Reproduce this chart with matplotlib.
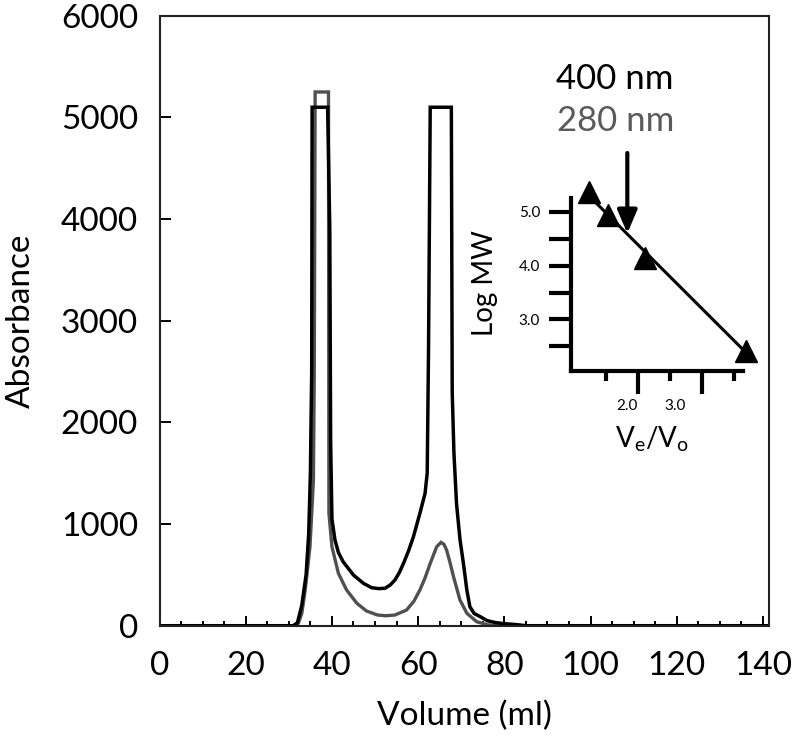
import matplotlib
matplotlib.use('Agg')
import matplotlib.pyplot as plt
import numpy as np
from matplotlib.ticker import MultipleLocator

plt.rcParams['font.family'] = ['Lato', 'DejaVu Sans']
plt.rcParams['mathtext.fontset'] = 'custom'
plt.rcParams['mathtext.rm'] = 'Lato'
plt.rcParams['mathtext.it'] = 'Lato:italic'

# elution profile, 400 nm (saturates at ~5100)
vol_400 = [0, 31.0, 32.0, 33.0, 34.0, 34.6, 35.0, 35.3, 35.4, 39.0, 39.5, 39.7,
           40.0, 40.7, 41.5, 42.6, 45.0, 47.3, 49.2, 50.8, 52.3, 53.5, 54.6,
           55.6, 56.6, 57.8, 58.9, 60.4, 61.6, 62.1, 62.4, 62.8, 67.7, 67.9,
           68.3, 68.9, 69.7, 70.5, 71.3, 72.0, 73.0, 74.4, 76.0, 78.0, 80.0,
           83.0, 85.0, 141.4]
abs_400 = [0, 0, 30, 200, 500, 900, 1500, 2500, 5100, 5100, 3900, 1800,
           1050, 843, 720, 629, 498, 417, 374, 365, 368, 400, 449,
           520, 613, 740, 875, 1105, 1302, 1500, 2700, 5100, 5100, 2300,
           1700, 1200, 850, 613, 350, 187, 120, 89, 50, 30, 20,
           10, 0, 0]

# elution profile, 280 nm (saturates at ~5250)
vol_280 = [0, 31.5, 32.2, 33.0, 33.8, 34.9, 35.3, 35.7, 35.9, 36.1, 39.2, 39.3,
           40.0, 41.5, 43.4, 45.8, 48.0, 50.6, 52.5, 54.6, 57.3, 59.0, 60.4,
           61.6, 62.8, 64.3, 65.3, 66.0, 66.6, 67.4, 68.2, 69.7, 71.3, 73.6,
           76.0, 78.0, 141.4]
abs_280 = [0, 0, 24, 120, 351, 777, 1100, 1433, 2500, 5250, 5250, 1105,
           777, 515, 351, 220, 145, 105, 98, 105, 154, 240, 351,
           470, 613, 777, 820, 800, 744, 620, 482, 253, 122, 39,
           10, 0, 0]

# calibration inset
ve_vo = [1.22, 1.53, 2.11, 3.70]
log_mw = [5.37, 4.94, 4.15, 2.42]
sample_ve_vo = 1.83
sample_log_mw = 4.60

fig = plt.figure(figsize=(8, 7.39), dpi=100)

# main chromatogram
ax = fig.add_axes([0.1994, 0.1533, 0.7619, 0.8254])
ax.plot(vol_280, abs_280, color='#505050', lw=2.4, solid_joinstyle='miter')
ax.plot(vol_400, abs_400, color='black', lw=2.5, solid_joinstyle='miter')
ax.set_xlim(0, 141.4)
ax.set_ylim(0, 6000)
ax.xaxis.set_major_locator(MultipleLocator(20))
ax.xaxis.set_minor_locator(MultipleLocator(5))
ax.yaxis.set_major_locator(MultipleLocator(1000))
ax.tick_params(axis='x', which='major', direction='in', length=7, width=1.4,
               labelsize=24, pad=18, top=False)
ax.tick_params(axis='x', which='minor', direction='in', length=3.5, width=1.4, top=False)
ax.tick_params(axis='y', which='major', direction='in', length=8, width=1.4,
               labelsize=24, pad=15.5, right=False)
for s in ax.spines.values():
    s.set_linewidth(1.5)
    s.set_color('#222222')
ax.set_xlabel('Volume (ml)', fontsize=24, va='top')
ax.xaxis.set_label_coords(0.5, -0.123)
ax.set_ylabel('Absorbance', fontsize=24, va='bottom')
ax.yaxis.set_label_coords(-0.203, 0.5)

fig.text(0.769, 1 - 89 / 739, '400 nm', fontsize=25, color='black',
         ha='center', va='baseline')
fig.text(0.769, 1 - 131 / 739, '280 nm', fontsize=25, color='#5a5a5a',
         ha='center', va='baseline')

# inset: calibration curve
ax2 = fig.add_axes([0.7134, 0.4984, 0.2154, 0.2333])
ax2.patch.set_alpha(0)
ax2.set_xlim(0.94, 3.65)
ax2.set_ylim(2.05, 5.25)
fit = np.polyfit(ve_vo, log_mw, 1)
xfit = np.array([ve_vo[0], ve_vo[-1]])
ax2.plot(xfit, np.polyval(fit, xfit), color='black', lw=2.2, clip_on=False)
ax2.plot(ve_vo, log_mw, '^', color='black', ms=16, clip_on=False)
ax2.annotate('', xy=(sample_ve_vo, sample_log_mw), xytext=(sample_ve_vo, 6.09),
             arrowprops=dict(arrowstyle='-|>,head_length=0.7,head_width=0.3',
                             lw=3, color='black', mutation_scale=20,
                             shrinkA=0, shrinkB=0),
             annotation_clip=False)
ax2.spines['top'].set_visible(False)
ax2.spines['right'].set_visible(False)
ax2.spines['left'].set_linewidth(3)
ax2.spines['bottom'].set_linewidth(3)
ax2.set_yticks([2.5, 3.0, 3.5, 4.0, 4.5, 5.0])
ax2.set_yticklabels(['', '3.0', '', '4.0', '', '5.0'])
ax2.tick_params(axis='y', direction='out', length=16, width=3, labelsize=11, pad=6)
ax2.set_xticks([2.0, 3.0])
ax2.set_xticklabels([])
ax2.set_xticks([1.5, 2.5, 3.5], minor=True)
ax2.tick_params(axis='x', which='major', direction='out', length=16.5, width=3)
ax2.tick_params(axis='x', which='minor', direction='out', length=7, width=3)
trans = ax2.get_xaxis_transform()
ax2.text(1.83, -0.205, '2.0', fontsize=11, ha='center', va='center', transform=trans)
ax2.text(2.58, -0.205, '3.0', fontsize=11, ha='center', va='center', transform=trans)
ax2.text(2.22, -0.40, r'$\mathrm{V_e/V_o}$', fontsize=20, ha='center', va='center',
         transform=trans)
ax2.set_ylabel('Log MW', fontsize=20, va='bottom')
ax2.yaxis.set_label_coords(-0.42, 0.509)

fig.savefig('out.png', dpi=100)
